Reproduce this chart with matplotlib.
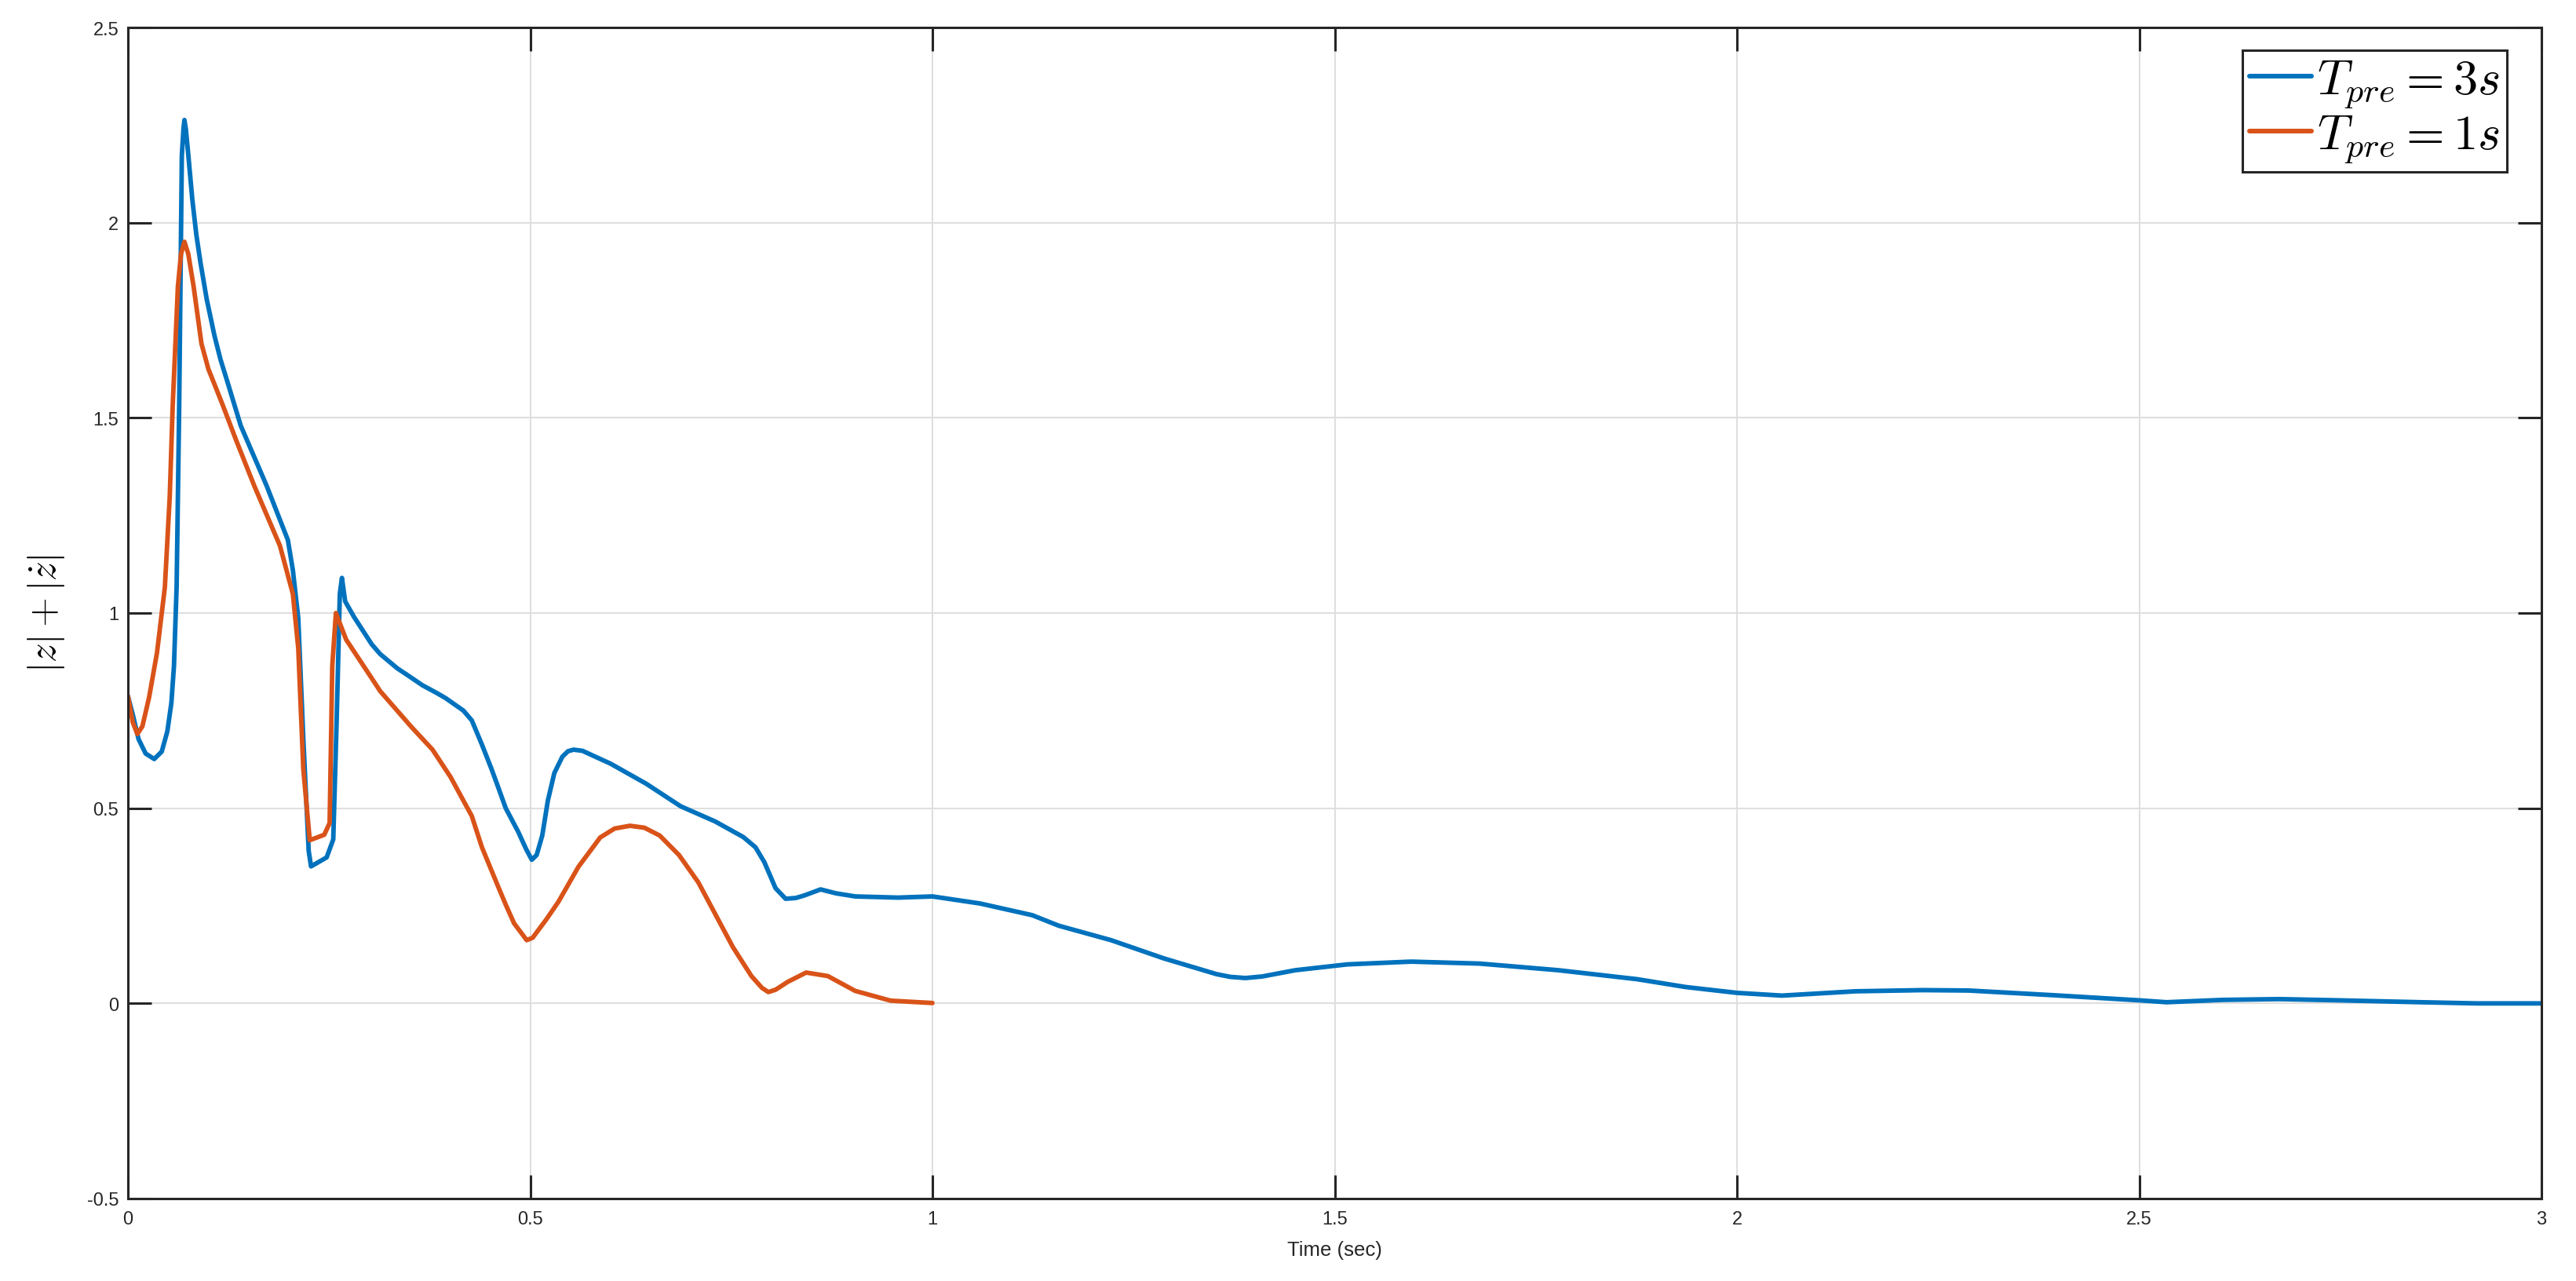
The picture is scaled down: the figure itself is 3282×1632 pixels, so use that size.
import matplotlib
matplotlib.use('Agg')
import matplotlib.pyplot as plt
import numpy as np


# Colours / style (MATLAB defaults)
BLUE = '#0072BD'
ORANGE = '#D95319'
AXIS_COLOR = '#262626'
GRID_COLOR = '#dfdfdf'

plt.rcParams['font.family'] = ['Liberation Sans', 'DejaVu Sans']
plt.rcParams['mathtext.fontset'] = 'cm'

# Data
# T_pre = 3s (blue)
t_3s = [0.000, 0.006, 0.0132, 0.022, 0.0327, 0.042, 0.049, 0.054, 0.0572, 0.0605,
        0.0637, 0.067, 0.0690, 0.0702, 0.0720, 0.0751, 0.080, 0.0849, 0.090, 0.0979,
        0.1076, 0.115, 0.124, 0.1402, 0.1724, 0.1988, 0.205, 0.2117, 0.218, 0.2247,
        0.2276, 0.2310, 0.247, 0.2552, 0.2595, 0.2634, 0.2660, 0.2700, 0.281, 0.303,
        0.3135, 0.335, 0.346, 0.366, 0.384, 0.3949, 0.417, 0.4274, 0.440, 0.452,
        0.460, 0.4696, 0.485, 0.495, 0.502, 0.508, 0.515, 0.522, 0.530, 0.540,
        0.547, 0.554, 0.565, 0.600, 0.644, 0.687, 0.730, 0.765, 0.780, 0.791,
        0.805, 0.8175, 0.830, 0.840, 0.861, 0.880, 0.904, 0.957, 1.000, 1.059,
        1.124, 1.157, 1.222, 1.288, 1.353, 1.370, 1.389, 1.410, 1.451, 1.516,
        1.595, 1.680, 1.778, 1.876, 1.936, 2.000, 2.056, 2.147, 2.231, 2.288,
        2.393, 2.499, 2.534, 2.604, 2.674, 2.745, 2.850, 2.920, 3.000]
v_3s = [0.787, 0.740, 0.677, 0.640, 0.626, 0.645, 0.697, 0.770, 0.864, 1.066,
        1.529, 2.172, 2.240, 2.263, 2.240, 2.172, 2.060, 1.971, 1.900, 1.804,
        1.710, 1.650, 1.590, 1.480, 1.326, 1.187, 1.110, 0.987, 0.678, 0.390,
        0.351, 0.355, 0.374, 0.420, 0.730, 1.050, 1.090, 1.030, 0.990, 0.920,
        0.895, 0.858, 0.843, 0.815, 0.795, 0.782, 0.750, 0.725, 0.663, 0.600,
        0.555, 0.500, 0.440, 0.395, 0.368, 0.380, 0.430, 0.520, 0.590, 0.632,
        0.646, 0.650, 0.647, 0.614, 0.563, 0.505, 0.466, 0.426, 0.400, 0.362,
        0.295, 0.268, 0.270, 0.276, 0.292, 0.282, 0.274, 0.271, 0.274, 0.256,
        0.226, 0.199, 0.162, 0.115, 0.075, 0.068, 0.065, 0.069, 0.085, 0.100,
        0.107, 0.102, 0.085, 0.062, 0.042, 0.027, 0.020, 0.031, 0.034, 0.033,
        0.021, 0.008, 0.003, 0.009, 0.011, 0.008, 0.003, 0.000, 0.000]

# T_pre = 1s (orange)
t_1s = [0.000, 0.006, 0.0117, 0.018, 0.0263, 0.0361, 0.0459, 0.052, 0.0556, 0.0621,
        0.066, 0.0702, 0.075, 0.0816, 0.0914, 0.100, 0.1174, 0.135, 0.157, 0.189,
        0.205, 0.2117, 0.218, 0.226, 0.244, 0.2507, 0.254, 0.2585, 0.2712, 0.303,
        0.3135, 0.352, 0.3786, 0.401, 0.4274, 0.440, 0.460, 0.4696, 0.480, 0.4957,
        0.503, 0.520, 0.535, 0.560, 0.587, 0.605, 0.624, 0.642, 0.661, 0.685,
        0.709, 0.752, 0.775, 0.788, 0.796, 0.805, 0.820, 0.843, 0.870, 0.904,
        0.948, 1.000]
v_1s = [0.787, 0.720, 0.690, 0.710, 0.784, 0.898, 1.066, 1.300, 1.529, 1.837,
        1.920, 1.951, 1.920, 1.837, 1.690, 1.625, 1.535, 1.440, 1.326, 1.172,
        1.049, 0.910, 0.600, 0.418, 0.432, 0.462, 0.865, 1.000, 0.932, 0.833,
        0.800, 0.709, 0.650, 0.580, 0.480, 0.400, 0.300, 0.253, 0.205, 0.162,
        0.168, 0.215, 0.260, 0.350, 0.425, 0.448, 0.455, 0.450, 0.430, 0.380,
        0.310, 0.144, 0.070, 0.040, 0.029, 0.035, 0.055, 0.079, 0.070, 0.032,
        0.007, 0.001]

x_ticks = [0, 0.5, 1, 1.5, 2, 2.5, 3]
x_tick_labels = ['0', '0.5', '1', '1.5', '2', '2.5', '3']
y_ticks = [-0.5, 0, 0.5, 1, 1.5, 2, 2.5]
y_tick_labels = ['-0.5', '0', '0.5', '1', '1.5', '2', '2.5']
legend_labels = [r'$T_{pre} = 3s$', r'$T_{pre} = 1s$']


fig = plt.figure(figsize=(32.82, 16.33), dpi=100, facecolor='white')
ax = fig.add_axes([163 / 3282, 1 - 1528 / 1633, 3075 / 3282, 1492 / 1633])

ax.plot(t_3s, v_3s, color=BLUE, lw=4.2, label=legend_labels[0],
        solid_joinstyle='round', solid_capstyle='round')
ax.plot(t_1s, v_1s, color=ORANGE, lw=4.2, label=legend_labels[1],
        solid_joinstyle='round', solid_capstyle='round')

ax.set_xlim(0, 3)
ax.set_ylim(-0.5, 2.5)
ax.set_xticks(x_ticks)
ax.set_xticklabels(x_tick_labels)
ax.set_yticks(y_ticks)
ax.set_yticklabels(y_tick_labels)

ax.set_axisbelow(True)
ax.grid(True, color=GRID_COLOR, lw=1.5)

for sp in ax.spines.values():
    sp.set_color(AXIS_COLOR)
    sp.set_linewidth(2.2)

ax.tick_params(axis='both', direction='in', length=21.5, width=2.2, color=AXIS_COLOR,
               labelcolor=AXIS_COLOR, labelsize=17, top=True, right=True)
ax.tick_params(axis='x', pad=10.5)
ax.tick_params(axis='y', pad=8.5)

ax.set_xlabel('Time (sec)', fontsize=18.5, color=AXIS_COLOR, va='center')
ax.xaxis.set_label_coords(0.5, -0.0436)
ax.set_ylabel(r'$|z|+|\dot{z}|$', fontsize=35, color='black', va='center')
ax.yaxis.set_label_coords(-0.0338, 0.5)

leg = ax.legend(loc='upper right', bbox_to_anchor=(0.9857, 0.9806), borderaxespad=0,
                fontsize=45, handlelength=1.25, handletextpad=0.12, borderpad=0.15,
                labelspacing=0.05, fancybox=False, framealpha=1)
leg.get_frame().set_edgecolor(AXIS_COLOR)
leg.get_frame().set_linewidth(2.2)
for line in leg.get_lines():
    line.set_linewidth(4.3)

fig.savefig('out.png', dpi=100, facecolor='white')
